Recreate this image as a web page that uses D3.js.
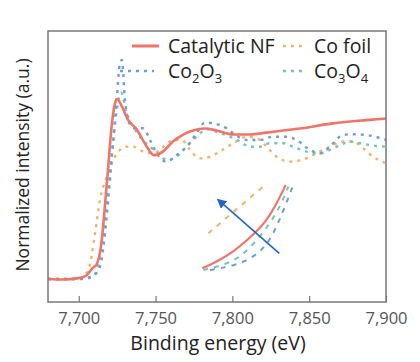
<!DOCTYPE html>
<html>
<head>
<meta charset="utf-8">
<script src="https://cdn.jsdelivr.net/npm/d3@7"></script>
<style>
  body { margin: 0; background: #fff; }
  text { font-family: "Open Sans", Lato, sans-serif; }
</style>
</head>
<body>
<svg id="chart" width="420" height="362"></svg>
<script>
// Binding energy (eV) and normalized intensity (a.u., 0-100 of the plot height)
const nfEnergy = [7680, 7690, 7700, 7705, 7709, 7711.7, 7715, 7717, 7719.2, 7721.4, 7723.6, 7725, 7728, 7732, 7737.7, 7744, 7749, 7755, 7761.5, 7768, 7774.5, 7782, 7789.7, 7800.5, 7811.4, 7822, 7844, 7865.5, 7887, 7900];
const nfValue  = [8.5, 8.3, 8.8, 9.8, 12.5, 13.9, 22.9, 35.2, 49.9, 64.7, 73.3, 74.9, 72.3, 67.3, 63.7, 57.6, 54.2, 55.6, 59.3, 61.8, 63.3, 64.0, 63.3, 61.8, 61.8, 62.5, 64.0, 65.9, 67.1, 67.7];

const co2o3Energy = [7680, 7700, 7709, 7713.8, 7718.2, 7721.4, 7724.7, 7726.8, 7728.1, 7730.1, 7732.2, 7735.5, 7742, 7746.4, 7750.7, 7757.2, 7763.7, 7770.2, 7776.7, 7782.1, 7787.5, 7796.3, 7800.6, 7809.3, 7817.9, 7826.6, 7835.3, 7841.8, 7850.5, 7857, 7863.5, 7870, 7876.5, 7887.4, 7900];
const co2o3Value  = [8.5, 8.5, 9.5, 13.0, 31.5, 52.4, 74.5, 88.1, 89.3, 74.5, 67.2, 64.1, 64.1, 59.8, 54.9, 51.8, 54.2, 57.3, 62.2, 66.2, 65.9, 64.1, 62.2, 59.8, 59.8, 61.0, 61.0, 59.8, 56.1, 54.9, 57.3, 61.0, 61.9, 61.6, 59.8];

const co3o4Energy = [7680, 7700, 7708, 7712, 7716, 7719, 7722.5, 7725.1, 7727.7, 7731.2, 7735.5, 7739.9, 7746.4, 7752.9, 7757.2, 7763.7, 7770.2, 7776.7, 7783.3, 7789.8, 7798.4, 7804.9, 7811.4, 7817.9, 7824.4, 7833.1, 7839.6, 7848.3, 7857, 7863.5, 7870, 7876.5, 7883, 7889.5, 7900];
const co3o4Value  = [8.5, 8.5, 9.0, 12.0, 25.0, 40.0, 59.8, 72.1, 77.2, 69.6, 64.7, 61.0, 57.3, 54.2, 52.4, 53.6, 57.3, 61.0, 63.7, 62.8, 61.0, 59.2, 57.3, 57.3, 58.6, 58.6, 57.3, 55.5, 54.9, 56.1, 57.9, 59.2, 58.6, 57.9, 57.3];

const foilEnergy = [7680, 7700, 7706.2, 7710.6, 7713.8, 7718.2, 7722.5, 7726.8, 7731.2, 7735.5, 7742, 7748.5, 7755, 7761.5, 7767, 7772.4, 7778.9, 7785.4, 7791.9, 7800.6, 7809.3, 7817.9, 7822.3, 7828.8, 7837.4, 7846.1, 7854.8, 7863.5, 7872.1, 7878.6, 7885.1, 7891.6, 7900];
const foilValue  = [8.5, 8.5, 11.8, 25.3, 37.6, 46.2, 52.4, 56.1, 57.3, 57.3, 55.5, 54.9, 57.3, 59.8, 59.8, 56.1, 53.0, 53.6, 55.5, 58.6, 61.0, 59.8, 57.3, 53.6, 51.8, 52.6, 54.9, 57.3, 59.2, 59.2, 56.7, 53.6, 51.2];

// inset (magnified edge), normalized units 0-1 inside the inset box
const insetNF    = [[0.003, 0.043], [0.158, 0.118], [0.337, 0.233], [0.48, 0.36], [0.6, 0.48], [0.7, 0.6], [0.803, 0.785], [0.9, 1.0]];
const insetCo3o4 = [[0.014, 0.023], [0.229, 0.08], [0.409, 0.165], [0.588, 0.36], [0.731, 0.56], [0.839, 0.751], [0.928, 0.98]];
const insetCo2o3 = [[0.086, 0.023], [0.301, 0.061], [0.516, 0.14], [0.696, 0.3], [0.803, 0.521], [0.892, 0.751], [0.982, 1.0]];
const insetFoil  = [[0.068, 0.445], [0.677, 1.0]];
const insetArrow = [[0.831, 0.215], [0.175, 0.828]];

const xTicks = [7700, 7750, 7800, 7850, 7900];

const svg = d3.select('#chart');
const margin = { left: 48, top: 31, right: 34, bottom: 60 };
const width = 420 - margin.left - margin.right;
const height = 362 - margin.top - margin.bottom;

const x = d3.scaleLinear().domain([7680, 7900]).range([0, width]);
const y = d3.scaleLinear().domain([0, 100]).range([height, 0]);

const g = svg.append('g').attr('transform', `translate(${margin.left},${margin.top})`);

const defs = svg.append('defs');
defs.append('clipPath').attr('id', 'plotClip')
  .append('rect').attr('width', width).attr('height', height);

const colors = { nf: '#f07467', co2o3: '#6f9fd2', co3o4: '#78c4b8', foil: '#f6b16f' };
const dotted = '3,5';

const line = d3.line().x(d => x(d[0])).y(d => y(d[1])).curve(d3.curveMonotoneX);
const zip = (a, b) => a.map((v, i) => [v, b[i]]);

const curves = g.append('g').attr('clip-path', 'url(#plotClip)');

// reference curves first, the sample on top
[[foilEnergy, foilValue, colors.foil], [co3o4Energy, co3o4Value, colors.co3o4], [co2o3Energy, co2o3Value, colors.co2o3]]
  .forEach(([e, v, c]) => {
    curves.append('path').datum(zip(e, v)).attr('d', line)
      .attr('fill', 'none').attr('stroke', c).attr('stroke-width', 2.4)
      .attr('stroke-dasharray', dotted);
  });

curves.append('path').datum(zip(nfEnergy, nfValue)).attr('d', line)
  .attr('fill', 'none').attr('stroke', colors.nf).attr('stroke-width', 2.6);

// inset
const ix = d3.scaleLinear().domain([0, 1]).range([202 - margin.left, 295 - margin.left]);
const iy = d3.scaleLinear().domain([0, 1]).range([272 - margin.top, 185 - margin.top]);
const iline = d3.line().x(d => ix(d[0])).y(d => iy(d[1])).curve(d3.curveBasis);

[[insetFoil, colors.foil], [insetCo3o4, colors.co3o4], [insetCo2o3, colors.co2o3]].forEach(([pts, c]) => {
  g.append('path').datum(pts).attr('d', iline).attr('fill', 'none')
    .attr('stroke', c).attr('stroke-width', 2).attr('stroke-dasharray', '5,6');
});
g.append('path').datum(insetNF).attr('d', iline).attr('fill', 'none')
  .attr('stroke', colors.nf).attr('stroke-width', 2.2);

defs.append('marker').attr('id', 'arrowHead')
  .attr('viewBox', '0 0 10 10').attr('refX', 8).attr('refY', 5)
  .attr('markerWidth', 6).attr('markerHeight', 6).attr('orient', 'auto')
  .append('path').attr('d', 'M0,0 L10,5 L0,10 Z').attr('fill', '#2163cf');

g.append('line')
  .attr('x1', ix(insetArrow[0][0])).attr('y1', iy(insetArrow[0][1]))
  .attr('x2', ix(insetArrow[1][0])).attr('y2', iy(insetArrow[1][1]))
  .attr('stroke', '#2163cf').attr('stroke-width', 1.6).attr('marker-end', 'url(#arrowHead)');

// axis with inward ticks
const xAxis = g.append('g').attr('transform', `translate(0,${height})`)
  .call(d3.axisBottom(x).tickValues(xTicks).tickSizeInner(-6).tickSizeOuter(0).tickPadding(10).tickFormat(d3.format(',')));
xAxis.select('.domain').remove();
xAxis.selectAll('line').attr('stroke', '#777').attr('stroke-width', 1.2);
xAxis.selectAll('text').attr('fill', '#555').attr('font-size', 16.5)
  .style('font-family', '"Open Sans", Lato, sans-serif');

g.append('rect').attr('width', width).attr('height', height)
  .attr('fill', 'none').attr('stroke', '#777').attr('stroke-width', 1.5);

// axis titles
svg.append('text').attr('x', margin.left + width / 2 + 1).attr('y', 350)
  .attr('text-anchor', 'middle').attr('font-size', 19.5).attr('fill', '#222')
  .text('Binding energy (eV)');
svg.append('text').attr('transform', `translate(29,${margin.top + 134}) rotate(-90)`)
  .attr('text-anchor', 'middle').attr('font-size', 17.5).attr('fill', '#222')
  .text('Normalized intensity (a.u.)');

// legend
const legend = [
  { label: 'Catalytic NF', color: colors.nf, solid: true, lx: 132, tx: 168, ly: 46 },
  { label: 'Co foil', color: colors.foil, solid: false, lx: 283, tx: 314, ly: 46 },
  { label: 'Co2O3', sub: ['2', '3'], color: colors.co2o3, solid: false, lx: 120, tx: 168, ly: 71 },
  { label: 'Co3O4', sub: ['3', '4'], color: colors.co3o4, solid: false, lx: 283, tx: 314, ly: 71 }
];

legend.forEach(d => {
  const len = d.lx === 120 ? 34 : (d.solid ? 27 : 23);
  svg.append('line').attr('x1', d.lx).attr('x2', d.lx + len).attr('y1', d.ly).attr('y2', d.ly)
    .attr('stroke', d.color).attr('stroke-width', d.solid ? 3 : 2.4)
    .attr('stroke-dasharray', d.solid ? null : dotted);
  const t = svg.append('text').attr('x', d.tx).attr('y', d.ly + 7)
    .attr('font-size', 19.5).attr('fill', '#222');
  if (d.sub) {
    t.append('tspan').text('Co');
    t.append('tspan').attr('font-size', 13).attr('dy', 5).text(d.sub[0]);
    t.append('tspan').attr('dy', -5).text('O');
    t.append('tspan').attr('font-size', 13).attr('dy', 5).text(d.sub[1]);
  } else {
    t.text(d.label);
  }
});
</script>
</body>
</html>
